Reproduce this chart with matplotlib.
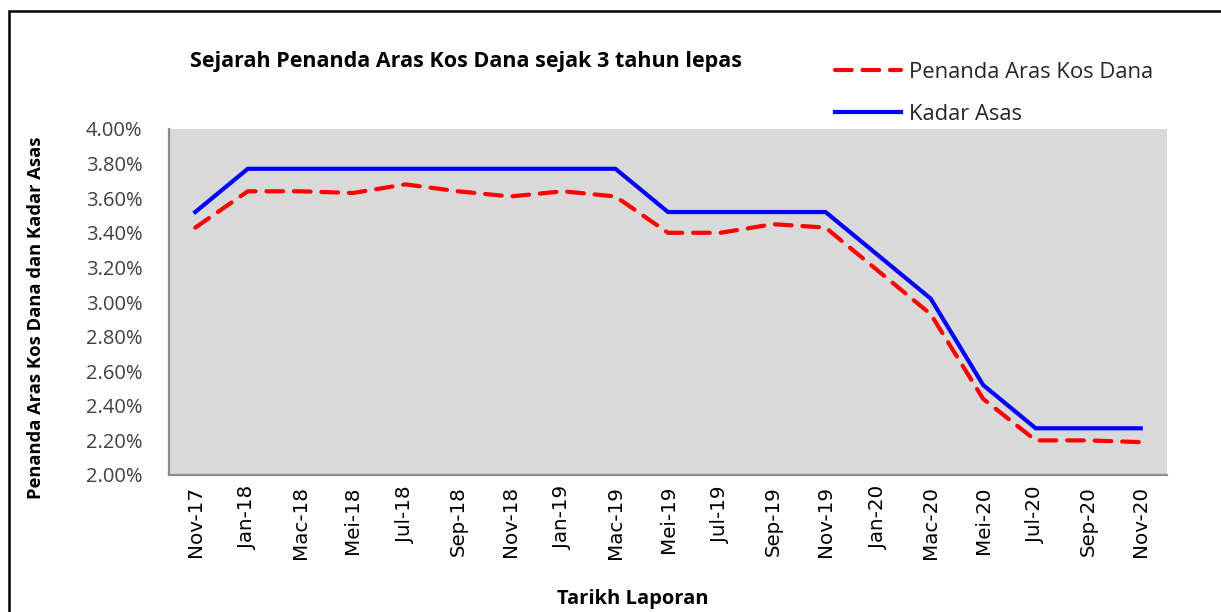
import matplotlib.pyplot as plt
from matplotlib.patches import Rectangle
from matplotlib.ticker import FuncFormatter

months = ["Nov-17", "Jan-18", "Mac-18", "Mei-18", "Jul-18", "Sep-18", "Nov-18",
          "Jan-19", "Mac-19", "Mei-19", "Jul-19", "Sep-19", "Nov-19", "Jan-20",
          "Mac-20", "Mei-20", "Jul-20", "Sep-20", "Nov-20"]
penanda = [3.43, 3.64, 3.64, 3.63, 3.68, 3.64, 3.61, 3.64, 3.61, 3.40,
           3.40, 3.45, 3.43, 3.18, 2.93, 2.44, 2.20, 2.20, 2.19]
kadar = [3.52, 3.77, 3.77, 3.77, 3.77, 3.77, 3.77, 3.77, 3.77, 3.52,
         3.52, 3.52, 3.52, 3.27, 3.02, 2.52, 2.27, 2.27, 2.27]

plt.rcParams['font.family'] = ['Open Sans', 'DejaVu Sans']

fig = plt.figure(figsize=(12.21, 6.12), dpi=100)
W, H = 1221, 612
ax = fig.add_axes([169 / W, 1 - 475 / H, (1167 - 169) / W, (475 - 129) / H])
ax.set_facecolor('#d9d9d9')

x = list(range(len(months)))
ax.plot(x, penanda, color='red', lw=3, dashes=(4, 2.6), dash_capstyle='round',
        label='Penanda Aras Kos Dana')
ax.plot(x, kadar, color='blue', lw=3, label='Kadar Asas')

ax.set_xlim(-0.5, len(months) - 0.5)
ax.set_ylim(2.0, 4.0)
ax.set_yticks([2.0 + 0.2 * i for i in range(11)])
ax.yaxis.set_major_formatter(FuncFormatter(lambda v, p: "%.2f%%" % v))
ax.set_xticks(x)
ax.set_xticklabels(months, rotation=90, family='DejaVu Sans', fontsize=14.3)
ax.tick_params(axis='y', length=0, labelsize=14.5, labelcolor='#404040', pad=19)
ax.tick_params(axis='x', length=0, pad=8)
for s in ['top', 'right']:
    ax.spines[s].set_visible(False)
for s in ['left', 'bottom']:
    ax.spines[s].set_color('#8c8c8c')
    ax.spines[s].set_linewidth(1.6)

ax.set_ylabel("Penanda Aras Kos Dana dan Kadar Asas", fontsize=13.2,
              fontweight='bold')
ax.yaxis.set_label_coords(-124 / 998, 0.454)
fig.text(633 / W, 1 - 599 / H, "Tarikh Laporan", fontsize=14.5,
         fontweight='bold', ha='center', va='center')
fig.text(190 / W, 1 - 62 / H, "Sejarah Penanda Aras Kos Dana sejak 3 tahun lepas",
         fontsize=15.5, fontweight='bold', ha='left', va='center')

ax.legend(loc='upper left', bbox_to_anchor=(815 / W, 1 - 42 / H),
          bbox_transform=fig.transFigure, frameon=False, fontsize=15.8,
          handlelength=3.0, handletextpad=0.4, labelspacing=0.95,
          labelcolor='#262626')

fig.patches.append(Rectangle((9 / W, -0.1), 1.5, 1 - 11 / H + 0.1,
                             transform=fig.transFigure, fill=False,
                             edgecolor='black', lw=1.8))

fig.savefig("out.png", dpi=100)
